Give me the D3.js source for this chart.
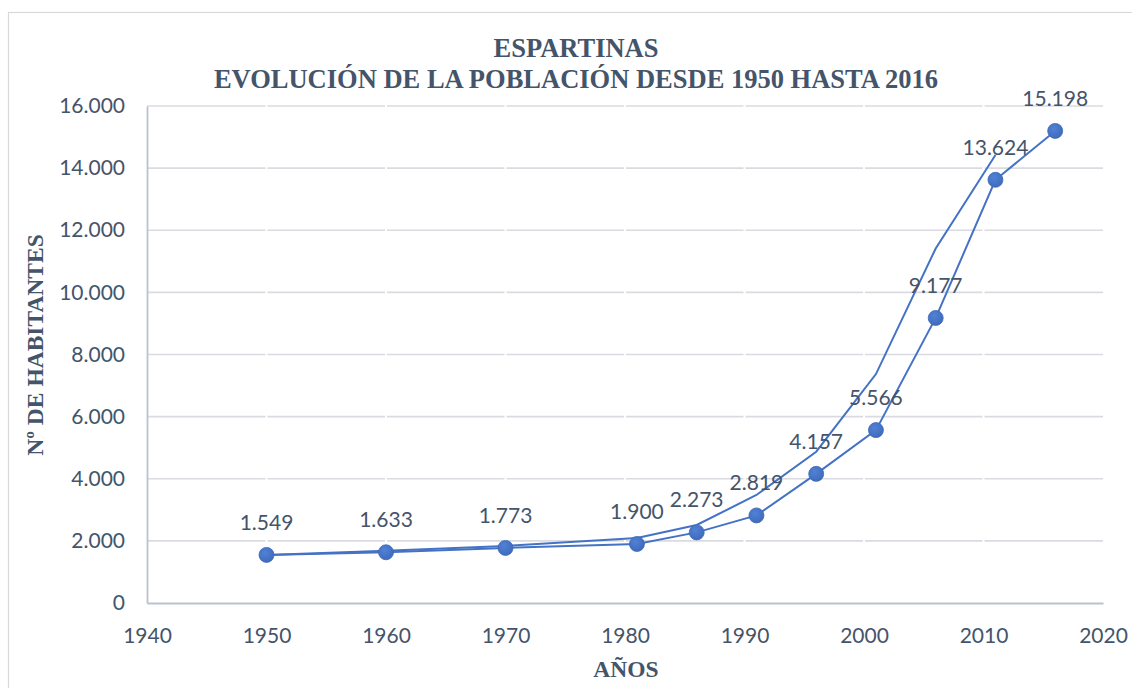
<!DOCTYPE html>
<html>
<head>
<meta charset="utf-8">
<script src="https://cdn.jsdelivr.net/npm/d3@7"></script>
<style>
  body { margin: 0; background: #fff; }
  svg { display: block; }
</style>
</head>
<body>
<div id="chart"></div>
<script>
// census years and inhabitants (the marked series)
const years = [1950, 1960, 1970, 1981, 1986, 1991, 1996, 2001, 2006, 2011, 2016];
const inhabitants = [1549, 1633, 1773, 1900, 2273, 2819, 4157, 5566, 9177, 13624, 15198];

// second line, no markers
const trendYears = [1950, 1960, 1970, 1981, 1986, 1991, 1996, 2001, 2006, 2011];
const trendValues = [1549, 1684, 1835, 2090, 2511, 3477, 4871, 7370, 11414, 14424];

const xTicks = [1940, 1950, 1960, 1970, 1980, 1990, 2000, 2010, 2020];
const yTicks = [0, 2000, 4000, 6000, 8000, 10000, 12000, 14000, 16000];

const titleLines = ["ESPARTINAS", "EVOLUCIÓN DE LA POBLACIÓN DESDE 1950 HASTA 2016"];
const xTitle = "AÑOS";
const yTitle = "Nº DE HABITANTES";

const width = 1132, height = 688;
const margin = { top: 106, right: 29, bottom: 85, left: 147 };

const blue = "#4472c4";
const textColor = "#44546a";
const sansFont = "Lato, 'Open Sans', sans-serif";
const serifFont = "'Liberation Serif', 'DejaVu Serif', serif";

const es = d3.formatLocale({ decimal: ",", thousands: ".", grouping: [3], currency: ["", " €"] });
const fmt = es.format(",d");

const svg = d3.select("#chart").append("svg")
  .attr("width", width)
  .attr("height", height);

// chart border
svg.append("rect")
  .attr("x", 8.5).attr("y", 12.5)
  .attr("width", width).attr("height", height)
  .attr("fill", "none")
  .attr("stroke", "#d9d9d9")
  .attr("stroke-width", 1.2);

const x = d3.scaleLinear().domain([1940, 2020]).range([margin.left, width - margin.right]);
const y = d3.scaleLinear().domain([0, 16000]).range([height - margin.bottom, margin.top]);

// gridlines
svg.append("g")
  .selectAll("line")
  .data(yTicks.slice(1))
  .join("line")
  .attr("x1", x(1940)).attr("x2", x(2020))
  .attr("y1", d => y(d)).attr("y2", d => y(d))
  .attr("stroke", "#d9dbe0")
  .attr("stroke-width", 1.6);

// little white gaps in the gridlines at each decade (as in the original)
svg.append("g")
  .selectAll("line")
  .data(xTicks.slice(1, -1))
  .join("line")
  .attr("x1", d => x(d)).attr("x2", d => x(d))
  .attr("y1", y(16000) - 2).attr("y2", y(0) - 2)
  .attr("stroke", "#fff")
  .attr("stroke-width", 2);

// axes
const yAxis = svg.append("g")
  .attr("transform", `translate(${margin.left},0)`)
  .call(d3.axisLeft(y).tickValues(yTicks).tickSize(0).tickPadding(22).tickFormat(fmt));

const xAxis = svg.append("g")
  .attr("transform", `translate(0,${height - margin.bottom})`)
  .call(d3.axisBottom(x).tickValues(xTicks).tickSize(0).tickPadding(25).tickFormat(d3.format("d")));

[xAxis, yAxis].forEach(g => {
  g.select(".domain").attr("stroke", "#b9c2d0").attr("stroke-width", 1.8);
  g.selectAll("text")
    .attr("fill", textColor)
    .style("font-family", sansFont)
    .style("font-size", "21px");
});

// lines
const line = d3.line().x(d => x(d[0])).y(d => y(d[1]));

svg.append("path")
  .datum(d3.zip(trendYears, trendValues))
  .attr("d", line)
  .attr("fill", "none")
  .attr("stroke", blue)
  .attr("stroke-width", 2);

svg.append("path")
  .datum(d3.zip(years, inhabitants))
  .attr("d", line)
  .attr("fill", "none")
  .attr("stroke", blue)
  .attr("stroke-width", 2);

// markers
const grad = svg.append("defs").append("radialGradient")
  .attr("id", "dot").attr("cx", "40%").attr("cy", "35%").attr("r", "70%");
grad.append("stop").attr("offset", "0%").attr("stop-color", "#5182d6");
grad.append("stop").attr("offset", "100%").attr("stop-color", "#3e69b9");

svg.append("g")
  .selectAll("circle")
  .data(d3.zip(years, inhabitants))
  .join("circle")
  .attr("cx", d => x(d[0]))
  .attr("cy", d => y(d[1]))
  .attr("r", 7.5)
  .attr("fill", "url(#dot)")
  .attr("stroke", "#3d68b8")
  .attr("stroke-width", 0.8);

// data labels
svg.append("g")
  .selectAll("text")
  .data(d3.zip(years, inhabitants))
  .join("text")
  .attr("x", d => x(d[0]))
  .attr("y", d => y(d[1]) - 25)
  .attr("text-anchor", "middle")
  .attr("fill", textColor)
  .style("font-family", sansFont)
  .style("font-size", "21px")
  .text(d => fmt(d[1]));

// titles
svg.append("g")
  .selectAll("text")
  .data(titleLines)
  .join("text")
  .attr("x", 576)
  .attr("y", (d, i) => 57 + i * 31)
  .attr("text-anchor", "middle")
  .attr("fill", textColor)
  .style("font-family", serifFont)
  .style("font-weight", "bold")
  .style("font-size", "26.5px")
  .text(d => d);

svg.append("text")
  .attr("x", 626)
  .attr("y", 677)
  .attr("text-anchor", "middle")
  .attr("fill", textColor)
  .style("font-family", serifFont)
  .style("font-weight", "bold")
  .style("font-size", "23.5px")
  .text(xTitle);

svg.append("text")
  .attr("transform", "translate(43,345) rotate(-90)")
  .attr("text-anchor", "middle")
  .attr("fill", textColor)
  .style("font-family", serifFont)
  .style("font-weight", "bold")
  .style("font-size", "23.5px")
  .text(yTitle);
</script>
</body>
</html>
